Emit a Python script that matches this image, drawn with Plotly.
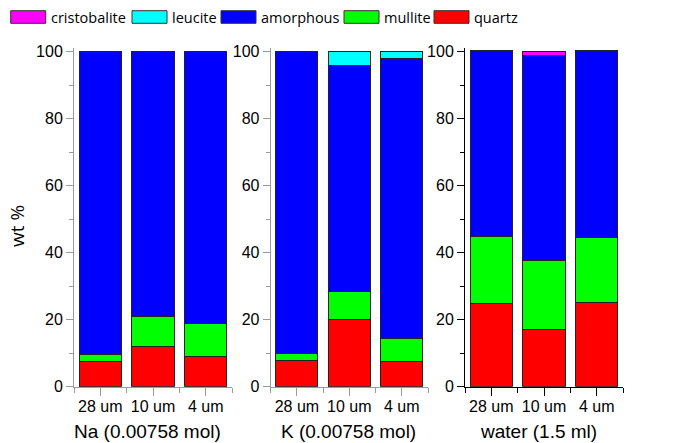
import plotly.graph_objects as go

W, H = 678, 443

# Phase composition (wt %) per sample group
groups = ["Na (0.00758 mol)", "K (0.00758 mol)", "water (1.5 ml)"]
sizes = ["28 um", "10 um", "4 um"]
phases = ["cristobalite", "leucite", "amorphous", "mullite", "quartz"]
colors = {"cristobalite": "#FF00FF", "leucite": "#00FFFF", "amorphous": "#0000FF",
          "mullite": "#00FF00", "quartz": "#FF0000"}

quartz = [[7.5, 12.0, 9.0], [7.7, 20.0, 7.6], [24.9, 17.1, 25.0]]
mullite = [[2.0, 9.0, 10.0], [2.3, 8.4, 6.7], [19.9, 20.5, 19.4]]
amorphous = [[90.5, 79.0, 81.0], [90.0, 67.6, 83.7], [55.5, 61.3, 55.8]]
leucite = [[0.0, 0.0, 0.0], [0.0, 4.0, 2.0], [0.0, 0.0, 0.0]]
cristobalite = [[0.0, 0.0, 0.0], [0.0, 0.0, 0.0], [0.0, 1.1, 0.0]]

series = {"quartz": quartz, "mullite": mullite, "amorphous": amorphous,
          "leucite": leucite, "cristobalite": cristobalite}
stack_order = ["quartz", "mullite", "amorphous", "leucite", "cristobalite"]

def px(x):
    return x / W

def py(y):
    return 1 - y / H

x_domains = [(74, 232), (270.7, 428), (465, 623)]
y_domain = [py(386.7), py(48.3)]
axis_colors = ["#9a9a9a", "#9a9a9a", "#000000"]
title_centers = [147, 348.5, 538.5]

fig = go.Figure()
tick_font = dict(family="Liberation Sans, Arial, sans-serif", size=16, color="#000")

for g in range(3):
    xa = "x" if g == 0 else f"x{g+1}"
    ya = "y" if g == 0 else f"y{g+1}"
    for ph in stack_order:
        fig.add_trace(go.Bar(
            x=[0, 1, 2], y=series[ph][g], name=ph, xaxis=xa, yaxis=ya,
            width=0.8, marker=dict(color=colors[ph], line=dict(color="#222", width=1)),
            showlegend=False,
        ))
    ac = axis_colors[g]
    xkey = "xaxis" if g == 0 else f"xaxis{g+1}"
    ykey = "yaxis" if g == 0 else f"yaxis{g+1}"
    fig.update_layout(**{
        xkey: dict(domain=[px(x_domains[g][0]), px(x_domains[g][1])], anchor=ya,
                   range=[-0.5, 2.5], tickmode="array", tickvals=[0, 1, 2], ticktext=sizes,
                   ticks="outside", ticklen=8, tickcolor=ac, tickwidth=1,
                   ticklabelstandoff=-3,
                   minor=dict(tickmode="array", tickvals=[-0.5, 0.5, 1.5, 2.5],
                              ticks="outside", ticklen=5, tickcolor=ac, tickwidth=1),
                   showline=True, linecolor=ac, linewidth=1, showgrid=False,
                   zeroline=False, tickfont=tick_font, automargin=False),
        ykey: dict(domain=y_domain, anchor=xa, range=[0, 101],
                   tickmode="array", tickvals=[0, 20, 40, 60, 80, 100],
                   ticks="outside", ticklen=7, tickcolor=ac, tickwidth=1,
                   minor=dict(tickmode="array", tickvals=[10, 30, 50, 70, 90],
                              ticks="outside", ticklen=4, tickcolor=ac, tickwidth=1),
                   showline=True, linecolor=ac, linewidth=1, showgrid=False,
                   zeroline=False, tickfont=tick_font, automargin=False),
    })

annotations = []
for g in range(3):
    annotations.append(dict(text=groups[g], x=px(title_centers[g]), y=py(431), xref="paper",
                            yref="paper", xanchor="center", yanchor="middle", showarrow=False,
                            font=dict(family="Liberation Sans, Arial, sans-serif", size=19, color="#000")))

annotations.append(dict(text="wt %", x=px(17), y=py(226), xref="paper", yref="paper",
                        textangle=-90, xanchor="center", yanchor="middle", showarrow=False,
                        font=dict(family="Open Sans, sans-serif", size=19, color="#000")))

# Legend row drawn as swatches with labels
swatch_x = [10.7, 132, 221, 344, 434]
shapes = []
for i, ph in enumerate(phases):
    x0 = swatch_x[i]
    shapes.append(dict(type="rect", xref="paper", yref="paper",
                       x0=px(x0), x1=px(x0 + 35), y0=py(23.3), y1=py(10.7),
                       fillcolor=colors[ph], line=dict(color="#333", width=1)))
    annotations.append(dict(text=ph, x=px(x0 + 39), y=py(18), xref="paper", yref="paper",
                            xanchor="left", yanchor="middle", showarrow=False, borderpad=0,
                            font=dict(family="Open Sans, sans-serif", size=14.5, color="#000")))

fig.update_layout(
    barmode="stack", width=W, height=H, margin=dict(l=0, r=0, t=0, b=0),
    paper_bgcolor="white", plot_bgcolor="white",
    annotations=annotations, shapes=shapes, showlegend=False,
)

fig.write_html("out.html")
